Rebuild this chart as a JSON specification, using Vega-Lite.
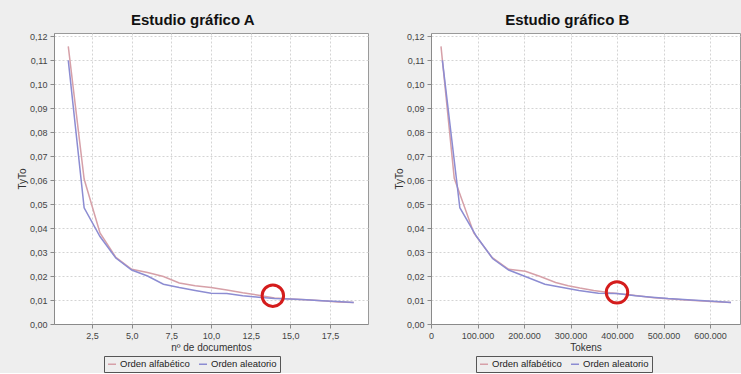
{
  "$schema": "https://vega.github.io/schema/vega-lite/v6.json",
  "background": "#eeeeee",
  "padding": {"left": 16, "top": 12, "right": 0, "bottom": 0},
  "config": {
    "locale": {"number": {"decimal": ",", "thousands": ".", "grouping": [3], "currency": ["", " €"]}},
    "font": "Liberation Sans",
    "view": {"fill": "white", "stroke": "#9a9a9a", "strokeWidth": 1},
    "axis": {
      "gridColor": "#d4d4d4", "gridDash": [2, 2], "gridWidth": 1,
      "domainColor": "#8a8a8a", "tickColor": "#8a8a8a", "tickSize": 4,
      "labelFontSize": 9, "labelColor": "#444444", "labelPadding": 3, "labelOverlap": false, "labelFlush": false,
      "titleFontSize": 10, "titleFontWeight": "normal", "titleColor": "#333333", "titlePadding": 2
    },
    "title": {"fontSize": 15, "fontWeight": "bold", "color": "#111111", "anchor": "middle", "frame": "bounds", "offset": 4},
    "legend": {
      "orient": "none", "direction": "horizontal", "title": null,
      "symbolType": "stroke", "symbolStrokeWidth": 1.5, "symbolSize": 64,
      "labelFontSize": 9.5, "labelColor": "#222222", "labelOffset": 3,
      "strokeColor": "#555555", "padding": 3, "columnPadding": 6
    },
    "concat": {"spacing": 24}
  },
  "datasets": {
    "docs": [
      {"doc": 1, "serie": "Orden alfabético", "v": 0.1158},
      {"doc": 2, "serie": "Orden alfabético", "v": 0.0605},
      {"doc": 3, "serie": "Orden alfabético", "v": 0.0380},
      {"doc": 4, "serie": "Orden alfabético", "v": 0.0278},
      {"doc": 5, "serie": "Orden alfabético", "v": 0.0228},
      {"doc": 6, "serie": "Orden alfabético", "v": 0.0215},
      {"doc": 7, "serie": "Orden alfabético", "v": 0.0198},
      {"doc": 8, "serie": "Orden alfabético", "v": 0.0171},
      {"doc": 9, "serie": "Orden alfabético", "v": 0.0160},
      {"doc": 10, "serie": "Orden alfabético", "v": 0.0152},
      {"doc": 11, "serie": "Orden alfabético", "v": 0.0142},
      {"doc": 12, "serie": "Orden alfabético", "v": 0.0130},
      {"doc": 13, "serie": "Orden alfabético", "v": 0.0120},
      {"doc": 14, "serie": "Orden alfabético", "v": 0.0108},
      {"doc": 15, "serie": "Orden alfabético", "v": 0.0104},
      {"doc": 16, "serie": "Orden alfabético", "v": 0.0101},
      {"doc": 17, "serie": "Orden alfabético", "v": 0.0097},
      {"doc": 18, "serie": "Orden alfabético", "v": 0.0092},
      {"doc": 19, "serie": "Orden alfabético", "v": 0.0090},
      {"doc": 1, "serie": "Orden aleatorio", "v": 0.1100},
      {"doc": 2, "serie": "Orden aleatorio", "v": 0.0485},
      {"doc": 3, "serie": "Orden aleatorio", "v": 0.0365},
      {"doc": 4, "serie": "Orden aleatorio", "v": 0.0275},
      {"doc": 5, "serie": "Orden aleatorio", "v": 0.0225},
      {"doc": 6, "serie": "Orden aleatorio", "v": 0.0200},
      {"doc": 7, "serie": "Orden aleatorio", "v": 0.0166},
      {"doc": 8, "serie": "Orden aleatorio", "v": 0.0152},
      {"doc": 9, "serie": "Orden aleatorio", "v": 0.0140},
      {"doc": 10, "serie": "Orden aleatorio", "v": 0.0128},
      {"doc": 11, "serie": "Orden aleatorio", "v": 0.0127},
      {"doc": 12, "serie": "Orden aleatorio", "v": 0.0118},
      {"doc": 13, "serie": "Orden aleatorio", "v": 0.0112},
      {"doc": 14, "serie": "Orden aleatorio", "v": 0.0106},
      {"doc": 15, "serie": "Orden aleatorio", "v": 0.0104},
      {"doc": 16, "serie": "Orden aleatorio", "v": 0.0101},
      {"doc": 17, "serie": "Orden aleatorio", "v": 0.0097},
      {"doc": 18, "serie": "Orden aleatorio", "v": 0.0094},
      {"doc": 19, "serie": "Orden aleatorio", "v": 0.0090}
    ],
    "tokens": [
      {"tok": 21500, "serie": "Orden alfabético", "v": 0.1158},
      {"tok": 50000, "serie": "Orden alfabético", "v": 0.0608},
      {"tok": 92000, "serie": "Orden alfabético", "v": 0.0380},
      {"tok": 131000, "serie": "Orden alfabético", "v": 0.0278},
      {"tok": 167000, "serie": "Orden alfabético", "v": 0.0228},
      {"tok": 203000, "serie": "Orden alfabético", "v": 0.0220},
      {"tok": 235000, "serie": "Orden alfabético", "v": 0.0198},
      {"tok": 268000, "serie": "Orden alfabético", "v": 0.0173},
      {"tok": 295000, "serie": "Orden alfabético", "v": 0.0160},
      {"tok": 320000, "serie": "Orden alfabético", "v": 0.0150},
      {"tok": 350000, "serie": "Orden alfabético", "v": 0.0140},
      {"tok": 385000, "serie": "Orden alfabético", "v": 0.0130},
      {"tok": 430000, "serie": "Orden alfabético", "v": 0.0121},
      {"tok": 480000, "serie": "Orden alfabético", "v": 0.0110},
      {"tok": 510000, "serie": "Orden alfabético", "v": 0.0105},
      {"tok": 540000, "serie": "Orden alfabético", "v": 0.0101},
      {"tok": 575000, "serie": "Orden alfabético", "v": 0.0097},
      {"tok": 612000, "serie": "Orden alfabético", "v": 0.0093},
      {"tok": 645000, "serie": "Orden alfabético", "v": 0.0090},
      {"tok": 24500, "serie": "Orden aleatorio", "v": 0.1100},
      {"tok": 62000, "serie": "Orden aleatorio", "v": 0.0485},
      {"tok": 98000, "serie": "Orden aleatorio", "v": 0.0365},
      {"tok": 133000, "serie": "Orden aleatorio", "v": 0.0272},
      {"tok": 167000, "serie": "Orden aleatorio", "v": 0.0225},
      {"tok": 200000, "serie": "Orden aleatorio", "v": 0.0200},
      {"tok": 245000, "serie": "Orden aleatorio", "v": 0.0166},
      {"tok": 280000, "serie": "Orden aleatorio", "v": 0.0153},
      {"tok": 318000, "serie": "Orden aleatorio", "v": 0.0140},
      {"tok": 360000, "serie": "Orden aleatorio", "v": 0.0128},
      {"tok": 400000, "serie": "Orden aleatorio", "v": 0.0127},
      {"tok": 440000, "serie": "Orden aleatorio", "v": 0.0118},
      {"tok": 475000, "serie": "Orden aleatorio", "v": 0.0112},
      {"tok": 510000, "serie": "Orden aleatorio", "v": 0.0106},
      {"tok": 535000, "serie": "Orden aleatorio", "v": 0.0103},
      {"tok": 560000, "serie": "Orden aleatorio", "v": 0.0100},
      {"tok": 588000, "serie": "Orden aleatorio", "v": 0.0097},
      {"tok": 615000, "serie": "Orden aleatorio", "v": 0.0094},
      {"tok": 645000, "serie": "Orden aleatorio", "v": 0.0090}
    ],
    "circA": [{"doc": 13.9, "v": 0.0118}],
    "circB": [{"tok": 400000, "v": 0.0132}]
  },
  "hconcat": [
    {
      "title": {"text": "Estudio gráfico A"},
      "width": 314,
      "height": 291,
      "encoding": {
        "x": {"field": "doc", "type": "quantitative", "title": "nº de documentos",
              "scale": {"domain": [0.1, 19.9], "nice": false, "zero": false},
              "axis": {"values": [2.5, 5, 7.5, 10, 12.5, 15, 17.5], "format": ".1f", "labelOverlap": false}},
        "y": {"field": "v", "type": "quantitative", "title": "TyTo",
              "scale": {"domain": [0, 0.1214], "nice": false},
              "axis": {"values": [0, 0.01, 0.02, 0.03, 0.04, 0.05, 0.06, 0.07, 0.08, 0.09, 0.1, 0.11, 0.12], "tickCount": 13, "format": ".2f", "labelOverlap": false, "labelSeparation": 0}}
      },
      "layer": [
        {
          "data": {"name": "docs"},
          "mark": {"type": "line", "strokeWidth": 1.5},
          "encoding": {
            "color": {"field": "serie", "type": "nominal",
                      "scale": {"domain": ["Orden alfabético", "Orden aleatorio"], "range": ["#d6a0a8", "#8c8cd2"]},
                      "legend": {"legendX": 50, "legendY": 323}}
          }
        },
        {
          "data": {"name": "circA"},
          "mark": {"type": "point", "shape": "circle", "filled": false, "stroke": "#d41c1c", "strokeWidth": 3, "size": 460, "opacity": 1},
          "encoding": {}
        }
      ]
    },
    {
      "title": {"text": "Estudio gráfico B"},
      "width": 309,
      "height": 291,
      "encoding": {
        "x": {"field": "tok", "type": "quantitative", "title": "Tokens",
              "scale": {"domain": [0, 664500], "nice": false},
              "axis": {"values": [0, 100000, 200000, 300000, 400000, 500000, 600000], "format": ",d", "labelOverlap": false}},
        "y": {"field": "v", "type": "quantitative", "title": "TyTo",
              "scale": {"domain": [0, 0.1214], "nice": false},
              "axis": {"values": [0, 0.01, 0.02, 0.03, 0.04, 0.05, 0.06, 0.07, 0.08, 0.09, 0.1, 0.11, 0.12], "tickCount": 13, "format": ".2f", "labelOverlap": false, "labelSeparation": 0}}
      },
      "layer": [
        {
          "data": {"name": "tokens"},
          "mark": {"type": "line", "strokeWidth": 1.5},
          "encoding": {
            "color": {"field": "serie", "type": "nominal",
                      "scale": {"domain": ["Orden alfabético", "Orden aleatorio"], "range": ["#d6a0a8", "#8c8cd2"]},
                      "legend": {"legendX": 45, "legendY": 323}}
          }
        },
        {
          "data": {"name": "circB"},
          "mark": {"type": "point", "shape": "circle", "filled": false, "stroke": "#d41c1c", "strokeWidth": 3, "size": 460, "opacity": 1},
          "encoding": {}
        }
      ]
    }
  ],
  "resolve": {"scale": {"color": "independent", "x": "independent", "y": "independent"}, "legend": {"color": "independent"}}
}
